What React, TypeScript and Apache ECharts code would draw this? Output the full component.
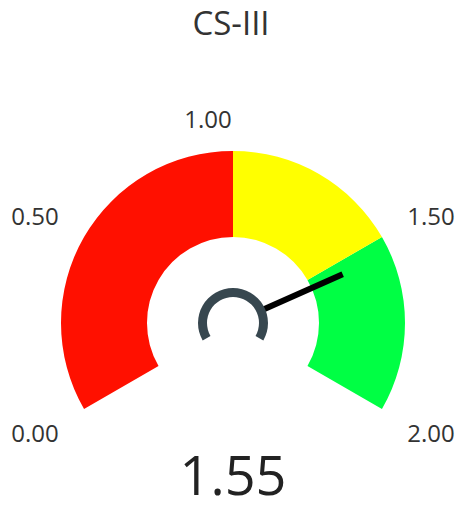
import React, { useEffect, useRef } from "react";
import * as echarts from "echarts";

const chartTitle = "CS-III";
const gaugeMin = 0;
const gaugeMax = 2;
const splitCount = 4;
const bandStops = [1.0, 1.5, 2.0];
const bandColors = ["#FF1000", "#FFFF00", "#00FF44"];
const currentValue = 1.55;

const FONT = "'Open Sans', 'Noto Sans', sans-serif";

export default function App() {
  const ref = useRef<HTMLDivElement>(null);
  useEffect(() => {
    if (!ref.current) return;
    const chart = echarts.init(ref.current, undefined, { renderer: "svg" });
    const span = gaugeMax - gaugeMin;
    const colorStops = bandStops.map((s, i) => [(s - gaugeMin) / span, bandColors[i]]);
    const labelKey = (v: number) => {
      const r = Math.round(v * 100) / 100;
      if (r === 0) return "b";
      if (r === 0.5) return "t";
      if (r === 1) return "m";
      if (r === 1.5) return "t";
      return "b";
    };
    const center = [233, 323];
    chart.setOption({
      animation: false,
      title: {
        text: chartTitle,
        left: "center",
        top: 1,
        textStyle: { fontSize: 33, fontWeight: "normal", color: "#333", fontFamily: FONT },
      },
      series: [
        {
          type: "gauge",
          z: 2,
          center,
          radius: 172,
          startAngle: 210,
          endAngle: -30,
          min: gaugeMin,
          max: gaugeMax,
          splitNumber: splitCount,
          axisLine: { lineStyle: { width: 86, color: colorStops } },
          axisTick: { show: false },
          splitLine: { show: false, length: 0, distance: 0 },
          axisLabel: {
            distance: -84,
            color: "#333",
            fontSize: 24,
            fontFamily: FONT,
            formatter: (v: number) => `{${labelKey(v)}|${v.toFixed(2)}}`,
            rich: {
              b: { fontSize: 24, fontFamily: FONT, color: "#333", padding: [0, 0, 38, 0] },
              t: { fontSize: 24, fontFamily: FONT, color: "#333", padding: [40, 0, 0, 0] },
              m: { fontSize: 24, fontFamily: FONT, color: "#333", padding: [39, 50, 0, 0] },
            },
          },
          pointer: { show: true, icon: "rect", width: 6, length: 120, itemStyle: { color: "#000" } },
          anchor: { show: true, showAbove: true, size: 68, icon: "circle", itemStyle: { color: "#fff" } },
          title: { show: false },
          detail: {
            offsetCenter: [0, 151],
            fontSize: 54,
            lineHeight: 54,
            fontFamily: FONT,
            fontWeight: "normal",
            color: "#222",
            formatter: (v: number) => v.toFixed(2),
          },
          data: [{ value: currentValue }],
        },
        {
          type: "gauge",
          z: 5,
          center,
          radius: 35,
          startAngle: 210,
          endAngle: -30,
          min: gaugeMin,
          max: gaugeMax,
          axisLine: { lineStyle: { width: 9, color: [[1, "#37474F"]] } },
          axisTick: { show: false },
          splitLine: { show: false },
          axisLabel: { show: false },
          pointer: { show: false },
          anchor: { show: false },
          title: { show: false },
          detail: { show: false },
          data: [{ value: gaugeMin }],
        },
      ],
    });
    return () => chart.dispose();
  }, []);
  return (
    <div
      ref={ref}
      style={{ position: "absolute", left: 0, top: 0, width: 462, height: 510 }}
    />
  );
}
